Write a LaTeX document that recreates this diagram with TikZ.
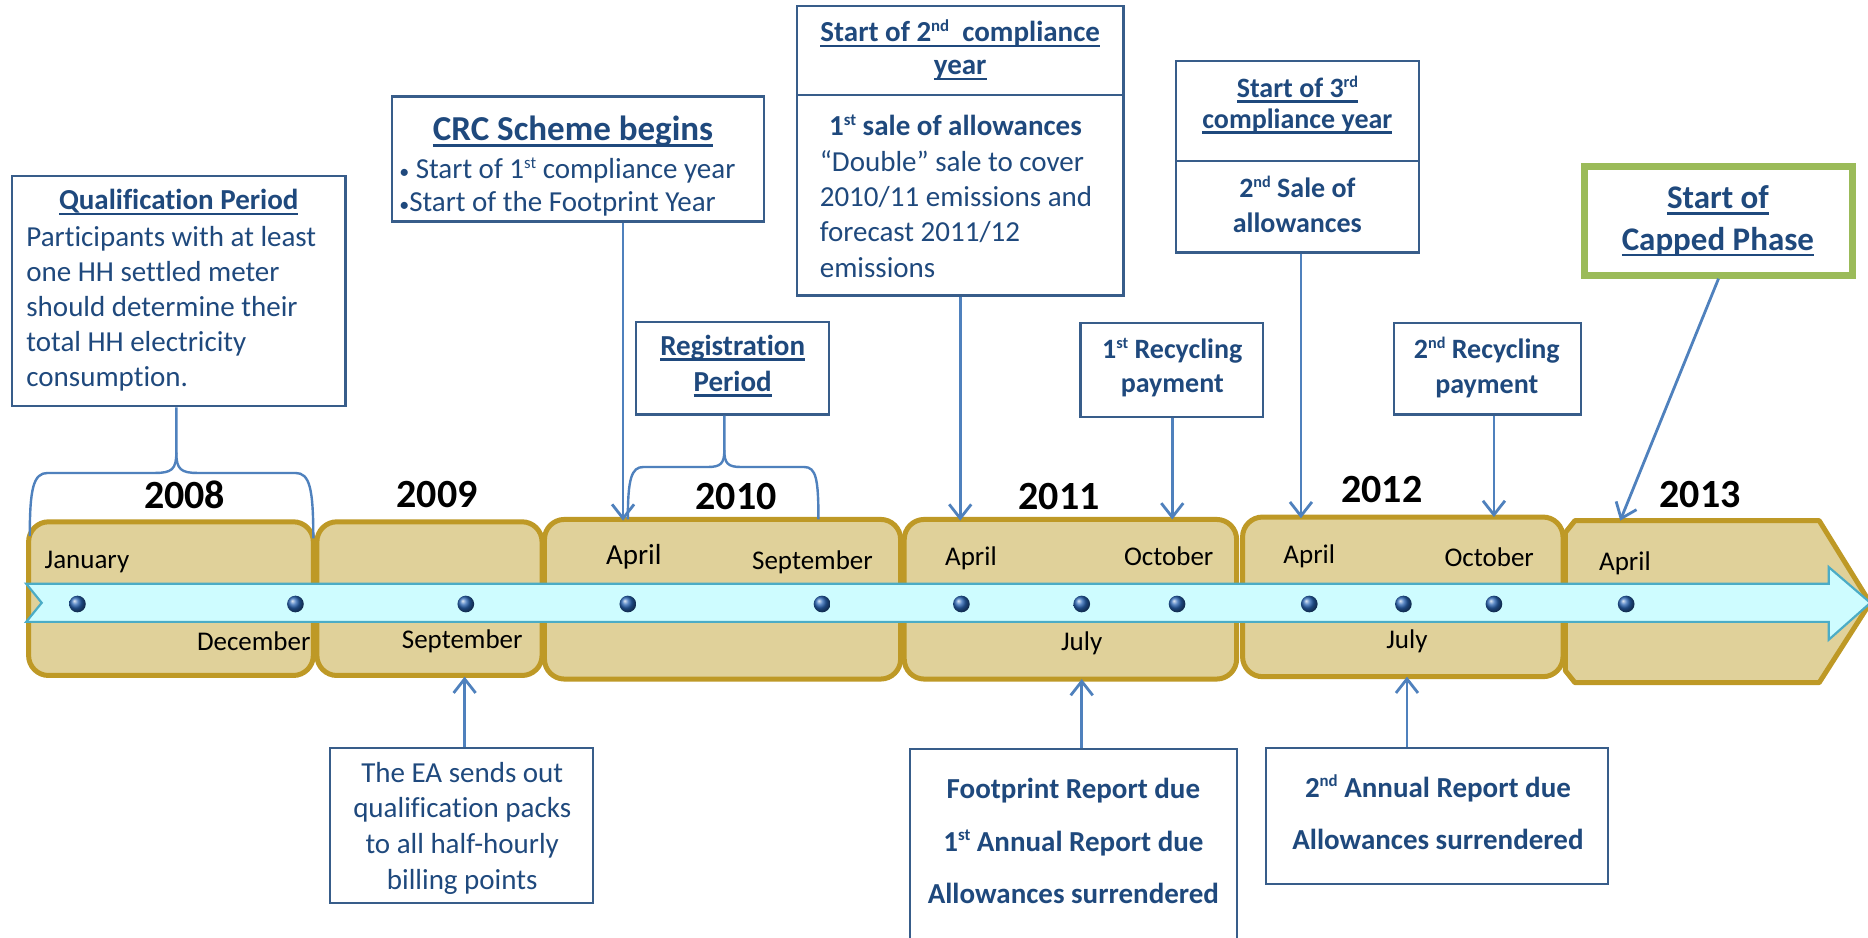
\documentclass[tikz,border=0pt]{standalone}
\usepackage{fontspec}
\setmainfont{Carlito}[Ligatures={NoCommon}]
\usetikzlibrary{arrows.meta,fit}
\definecolor{txtblue}{RGB}{31,73,125}
\definecolor{boxblue}{RGB}{56,93,138}
\definecolor{conblue}{RGB}{79,129,189}
\definecolor{tanfill}{RGB}{224,209,154}
\definecolor{tanline}{RGB}{190,153,38}
\definecolor{bandfill}{RGB}{206,252,255}
\definecolor{bandline}{RGB}{75,172,198}
\definecolor{dotblue}{RGB}{40,100,180}
\definecolor{capgreen}{RGB}{155,187,89}
\newcommand\fs[2]{\fontsize{#1}{#2}\selectfont}
\newcommand\uln[1]{\setbox0\hbox{#1}\rlap{\rule[-0.19em]{\wd0}{0.085em}}\box0}
\makeatletter
\newcommand\sups[1]{\begingroup\dimen0=\f@size pt\dimen0=0.58\dimen0
  \raisebox{0.36em}{\fontsize{\strip@pt\dimen0}{0}\selectfont #1}\endgroup}
\makeatother
\begin{document}
\begin{tikzpicture}[x=1.1913pt,y=-1.1913pt,
  infobox/.style={draw=boxblue,line width=2.2pt,fill=white,inner sep=0pt},
  yearbox/.style={draw=tanline,fill=tanfill,line width=5pt,rounded corners=20pt,inner sep=0pt},
  monthlbl/.style={font=\fs{27}{30},inner sep=0pt,text=black},
  yearlbl/.style={font=\fs{40}{44}\bfseries,inner sep=0pt,text=black},
  ttl/.style={font=\fs{29}{35}\bfseries,inner sep=0pt,text=txtblue,align=center},
  bld/.style={font=\fs{28}{34.5}\bfseries,inner sep=0pt,text=txtblue,align=center},
  body/.style={font=\fs{29}{35},inner sep=0pt,text=txtblue,align=left},
  conn/.style={draw=conblue,line width=2.8pt,-{Straight Barb[length=14pt,width=22pt]}},
  mybrace/.style={draw=conblue,line width=2.4pt}]
\useasboundingbox (0,0) rectangle (1568,787);
\clip (0,0) rectangle (1568,787);
\fill[white] (0,0) rectangle (1568,787);

% timeline year boxes
\node[yearbox, fit={(24,438) (263,567)}] (b2008) {};
\node[yearbox, fit={(266,438) (455,567)}] (b2009) {};
\node[yearbox, fit={(457,436) (756,570)}] (b2010) {};
\node[yearbox, fit={(759,436) (1038,570)}] (b2011) {};
\node[yearbox, fit={(1043,434) (1312,568)}] (b2012) {};
\draw[tanline, fill=tanfill, line width=5pt, line join=round]
  (1322,437) -- (1527,437) -- (1566,500) -- (1566,512) -- (1527,573) -- (1322,573)
  -- (1314,563) -- (1314,447) -- cycle;

% band arrow
\draw[bandline, fill=bandfill, line width=2.2pt]
  (22,490) -- (1535,490) -- (1535,476) -- (1570,506) -- (1535,537) -- (1535,522)
  -- (22,522) -- (35,506) -- cycle;

% dots
\foreach \x in {65,248,391,527,690,807,908,988,1099,1178,1254,1365}
  \shade[ball color=dotblue] (\x,507) circle (7);

% month labels
\node[monthlbl] (mJan) at (73,472) {January};
\node[monthlbl] (mDec) at (213,538) {December};
\node[monthlbl] (mSep9) at (388,538) {September};
\node[monthlbl, font=\fs{29}{32}] (mApr10) at (532,467) {April};
\node[monthlbl] (mSep10) at (682,472) {September};
\node[monthlbl] (mApr11) at (815,469) {April};
\node[monthlbl] (mOct11) at (981,467) {October};
\node[monthlbl] (mJul11) at (908,540) {July};
\node[monthlbl] (mApr12) at (1099,467) {April};
\node[monthlbl] (mOct12) at (1250,468) {October};
\node[monthlbl] (mJul12) at (1181,538) {July};
\node[monthlbl] (mApr13) at (1364,473) {April};

% year labels
\node[yearlbl] (y2008) at (155,415) {2008};
\node[yearlbl] (y2009) at (367,415) {2009};
\node[yearlbl] (y2010) at (618,417) {2010};
\node[yearlbl] (y2011) at (889,417) {2011};
\node[yearlbl] (y2012) at (1160,411) {2012};
\node[yearlbl] (y2013) at (1427,415) {2013};

% Qualification
\node[infobox, fit={(10,148) (290,341)}] (qual) {};
\node[ttl] (qualT) at (150,170) {\uln{Qualification Period}};
\node[body, anchor=west] (qualB) at (22,259) {Participants with at least\\one HH settled meter\\should determine their\\total HH electricity\\consumption.};

% CRC
\node[infobox, fit={(329,81) (641,186)}] (crc) {};
\node[ttl, font=\fs{35}{40}\bfseries] (crcT) at (481,110) {\uln{CRC Scheme begins}};
\node[body, anchor=west, font=\fs{29}{33.4}] (crcB) at (335,157) {{\fs{20}{20}\textbullet}\ Start of 1\sups{st} compliance year\\{\fs{20}{20}\textbullet}Start of the Footprint Year};

% Registration
\node[infobox, fit={(534,270) (696,348)}] (reg) {};
\node[ttl, font=\fs{29}{35.7}\bfseries] (regT) at (615,307) {\uln{Registration}\\\uln{Period}};

% 2nd compliance year
\node[infobox, fit={(669,5) (943,248)}] (c2) {};
\draw[boxblue, line width=2.2pt] (669,80) -- (943,80);
\node[ttl, font=\fs{29}{33}\bfseries] (c2T) at (806,42) {\uln{Start of 2\sups{nd}\ \ compliance}\\\uln{year}};
\node[bld, font=\fs{29}{35}\bfseries] (c2S) at (802,105) {1\sups{st} sale of allowances};
\node[body, anchor=west, font=\fs{29}{35.4}] (c2B) at (688,179.5) {``Double'' sale to cover\\2010/11 emissions and\\forecast 2011/12\\emissions};

% 3rd compliance year
\node[infobox, fit={(987,51) (1191,212)}] (c3) {};
\draw[boxblue, line width=2.2pt] (987,135) -- (1191,135);
\node[ttl, font=\fs{28}{31}\bfseries] (c3T) at (1089,88) {\uln{Start of 3\sups{rd}}\\\uln{compliance year}};
\node[bld] (c3S) at (1089,171.5) {2\sups{nd} Sale of\\allowances};

% Recycling payments
\node[infobox, fit={(907,271) (1060,350)}] (r1) {};
\node[bld] (r1T) at (984,308.5) {1\sups{st} Recycling\\payment};
\node[infobox, fit={(1170,271) (1327,348)}] (r2) {};
\node[bld] (r2T) at (1248,308.5) {2\sups{nd} Recycling\\payment};

% Capped phase
\node[infobox, draw=capgreen, line width=7pt, fit={(1330,140) (1555,231)}] (cap) {};
\node[ttl, font=\fs{33}{41.7}\bfseries] (capT) at (1442,185.5) {\uln{Start of}\\\uln{Capped Phase}};

% EA box
\node[infobox, fit={(277,628) (498,758)}] (ea) {};
\node[body, align=center, font=\fs{29}{35.7}] (eaT) at (388,695) {The EA sends out\\qualification packs\\to all half-hourly\\billing points};

% Footprint box
\node[infobox, fit={(764,629) (1038,830)}] (fp) {};
\node[bld, font=\fs{29}{52.4}\bfseries] (fpT) at (901,706) {Footprint Report due\\1\sups{st} Annual Report due\\Allowances surrendered};

% 2nd annual
\node[infobox, fit={(1063,628) (1350,742)}] (ar2) {};
\node[bld, font=\fs{29}{52.4}\bfseries] (ar2T) at (1207,682) {2\sups{nd} Annual Report due\\Allowances surrendered};

% braces
\coordinate (qstem) at (148,380);
\draw[mybrace] (qual.south -| qstem) -- (qstem) .. controls (148,394) and (152,397) .. (166,397) -- (248,397) .. controls (260,397) and (263,410) .. (263,452);
\draw[mybrace] (qstem) .. controls (148,394) and (144,397) .. (130,397) -- (40,397) .. controls (28,397) and (25,410) .. (25,450);
\coordinate (rstem) at (608,378);
\draw[mybrace] (reg.south -| rstem) -- (rstem) .. controls (608,389) and (611,392) .. (622,392) -- (675,392) .. controls (685,392) and (687,402) .. (687,436);
\draw[mybrace] (rstem) .. controls (608,389) and (605,392) .. (594,392) -- (540,392) .. controls (530,392) and (527,402) .. (527,436);

% arrows
\coordinate (tCRC) at (523,437);
\coordinate (tC2) at (806,437);
\coordinate (tC3) at (1092,435);
\coordinate (tR1) at (984,436);
\coordinate (tR2) at (1254,434);
\coordinate (tCap) at (1360,437);
\coordinate (tEA) at (390,568);
\coordinate (tFP) at (908,570);
\coordinate (tAR) at (1181,568);
\draw[conn] (crc.south -| tCRC) -- (tCRC);
\draw[conn] (c2.south -| tC2) -- (tC2);
\draw[conn] (c3.south -| tC3) -- (tC3);
\draw[conn] (r1.south -| tR1) -- (tR1);
\draw[conn] (r2.south -| tR2) -- (tR2);
\draw[conn] (cap.south) -- (tCap);
\draw[conn] (ea.north -| tEA) -- (tEA);
\draw[conn] (fp.north -| tFP) -- (tFP);
\draw[conn] (ar2.north -| tAR) -- (tAR);
\end{tikzpicture}
\end{document}
